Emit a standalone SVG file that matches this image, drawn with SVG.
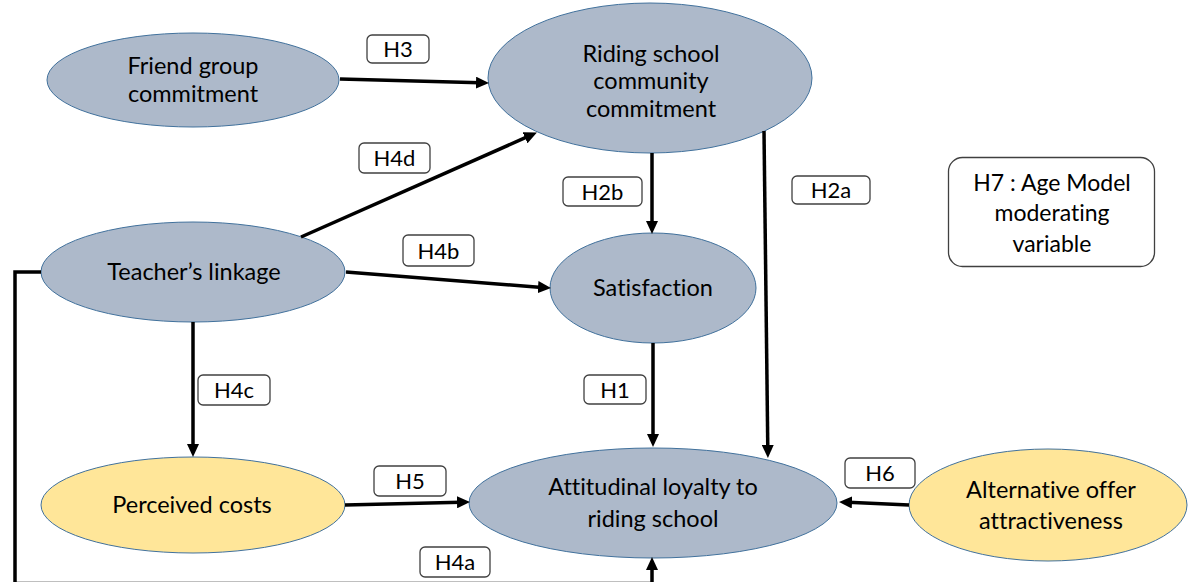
<svg xmlns="http://www.w3.org/2000/svg" width="1188" height="582" viewBox="0 0 1188 582">
<style>
text{font-variant-ligatures:none;font-feature-settings:"liga" 0}
.blue{fill:#ADB9CA;stroke:#41719C;stroke-width:1}
.yel{fill:#FFE699;stroke:#41719C;stroke-width:1}
.nt{font-family:Lato,"Liberation Sans",sans-serif;font-size:23.5px;fill:#000;text-anchor:middle}
.ht{font-family:Lato,"Liberation Sans",sans-serif;font-size:23px;fill:#000;text-anchor:middle}
.lb{fill:#fff;stroke:#404040;stroke-width:1.3}
.lt{font-family:Lato,"Liberation Sans",sans-serif;font-size:22px;fill:#000;text-anchor:middle}
.c{fill:none;stroke:#000;stroke-width:3.5}
</style>
<defs>
<marker id="ah" markerUnits="userSpaceOnUse" markerWidth="13" markerHeight="12" refX="4" refY="6" orient="auto">
<path d="M0,0 L13,6 L0,12 z" fill="#000"/>
</marker>
</defs>
<rect width="1188" height="582" fill="#fff"/>
<g id="friend"><ellipse class="blue" cx="193" cy="80" rx="146" ry="47"/><text class="nt" x="193" y="74">Friend group</text><text class="nt" x="193" y="102">commitment</text></g>
<g id="riding"><ellipse class="blue" cx="650" cy="78" rx="162" ry="75"/><text class="nt" x="651" y="62">Riding school</text><text class="nt" x="651" y="89">community</text><text class="nt" x="651" y="117">commitment</text></g>
<g id="teacher"><ellipse class="blue" cx="193" cy="272" rx="152" ry="50"/><text class="nt" x="194" y="280">Teacher’s linkage</text></g>
<g id="satisfaction"><ellipse class="blue" cx="653" cy="288" rx="103" ry="55"/><text class="nt" x="653" y="296">Satisfaction</text></g>
<g id="costs"><ellipse class="yel" cx="193" cy="505" rx="152" ry="48"/><text class="nt" x="192" y="513">Perceived costs</text></g>
<g id="loyalty"><ellipse class="blue" cx="653" cy="503" rx="184" ry="55"/><text class="nt" x="653" y="495">Attitudinal loyalty to</text><text class="nt" x="653" y="527">riding school</text></g>
<g id="alternative"><ellipse class="yel" cx="1048" cy="505" rx="139" ry="56"/><text class="nt" x="1051" y="498">Alternative offer</text><text class="nt" x="1051" y="529">attractiveness</text></g>
<g id="h7"><rect x="948.5" y="157.5" width="206" height="109" rx="14" fill="#fff" stroke="#404040" stroke-width="1.3"/><text class="ht" x="1052" y="191">H7 : Age Model</text><text class="ht" x="1052" y="221">moderating</text><text class="ht" x="1052" y="252">variable</text></g>
<g id="connectors">
<line class="c" x1="340" y1="79" x2="480" y2="82.8" marker-end="url(#ah)"/>
<line class="c" x1="301" y1="237" x2="528.7" y2="136.2" marker-end="url(#ah)"/>
<line class="c" x1="346" y1="272" x2="542" y2="287.4" marker-end="url(#ah)"/>
<line class="c" x1="652" y1="153" x2="652" y2="225" marker-end="url(#ah)"/>
<line class="c" x1="764" y1="131" x2="767.8" y2="449" marker-end="url(#ah)"/>
<line class="c" x1="653" y1="343" x2="653" y2="438" marker-end="url(#ah)"/>
<line class="c" x1="193" y1="322" x2="193" y2="448" marker-end="url(#ah)"/>
<line class="c" x1="345" y1="505" x2="461" y2="502.2" marker-end="url(#ah)"/>
<line class="c" x1="909" y1="505" x2="848" y2="502.3" marker-end="url(#ah)"/>
<polyline class="c" points="41,272 15,272 15,583.6 652,583.6 652,566" marker-end="url(#ah)"/>
</g>
<g id="labels">
<g id="lH3"><rect class="lb" x="367" y="35" width="62" height="28" rx="5"/><text class="lt" x="398" y="57">H3</text></g>
<g id="lH4d"><rect class="lb" x="359" y="143" width="71" height="30" rx="5"/><text class="lt" x="394.5" y="166">H4d</text></g>
<g id="lH4b"><rect class="lb" x="403" y="235" width="71" height="31" rx="5"/><text class="lt" x="438.5" y="259">H4b</text></g>
<g id="lH2b"><rect class="lb" x="563" y="177" width="79" height="29" rx="5"/><text class="lt" x="602.5" y="200">H2b</text></g>
<g id="lH2a"><rect class="lb" x="792" y="176" width="78" height="28" rx="5"/><text class="lt" x="831" y="198">H2a</text></g>
<g id="lH4c"><rect class="lb" x="198" y="375" width="72" height="30" rx="5"/><text class="lt" x="234" y="398">H4c</text></g>
<g id="lH1"><rect class="lb" x="584" y="375" width="62" height="29" rx="5"/><text class="lt" x="615" y="398">H1</text></g>
<g id="lH5"><rect class="lb" x="374" y="466" width="72" height="30" rx="5"/><text class="lt" x="410" y="489">H5</text></g>
<g id="lH6"><rect class="lb" x="845" y="458" width="70" height="30" rx="5"/><text class="lt" x="880" y="481">H6</text></g>
<g id="lH4a"><rect class="lb" x="420" y="547" width="70" height="30" rx="5"/><text class="lt" x="455" y="570">H4a</text></g>
</g>
</svg>
